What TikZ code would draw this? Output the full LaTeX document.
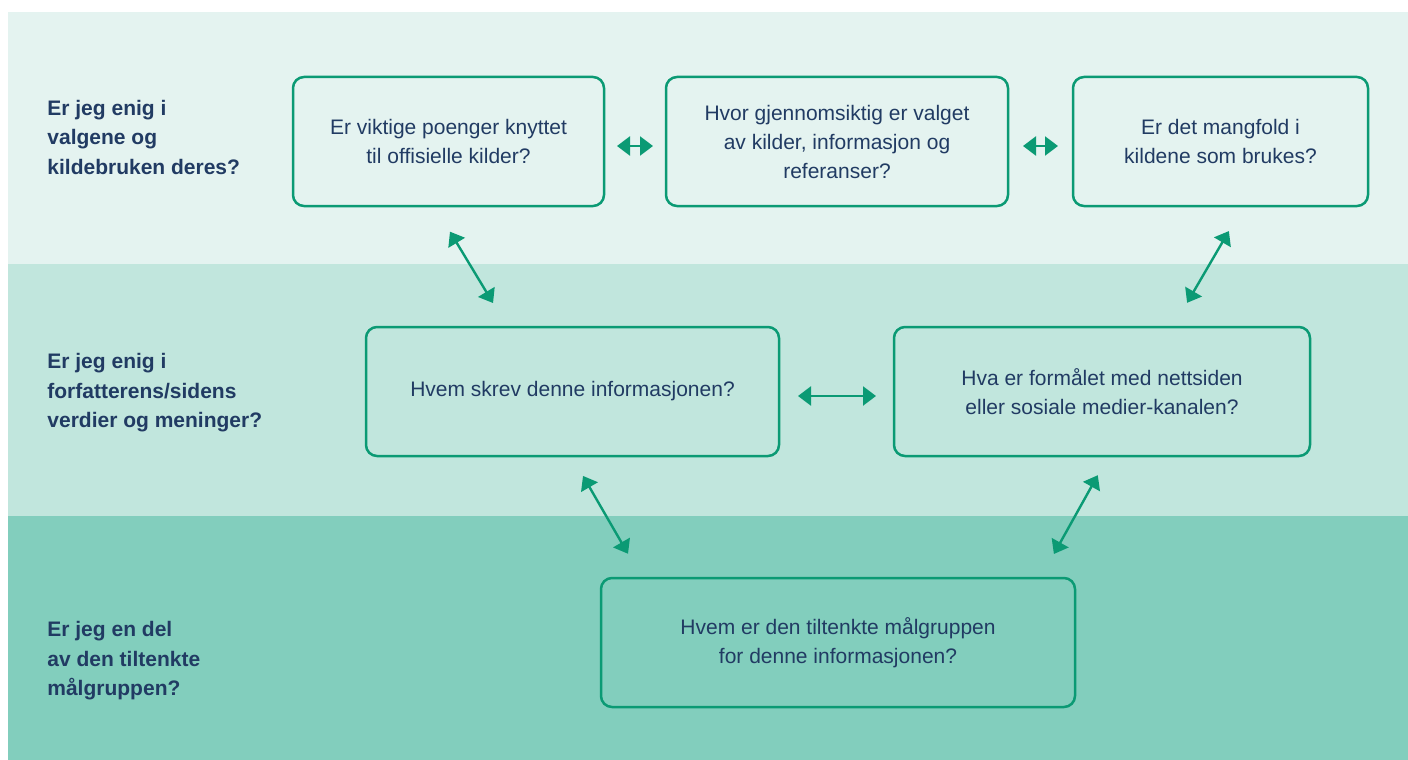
\documentclass[tikz,border=0pt]{standalone}
\usepackage{fontspec}
\setmainfont{Liberation Sans}
\usetikzlibrary{arrows.meta}

\definecolor{bandA}{HTML}{E4F3F0}
\definecolor{bandB}{HTML}{C1E6DD}
\definecolor{bandC}{HTML}{82CEBD}
\definecolor{leaf}{HTML}{0B9A74}
\definecolor{ink}{HTML}{213B63}

\begin{document}
\begin{tikzpicture}[x=1pt,y=-1pt,
   thick,q node/.style={draw=leaf,line width=2.5pt,rounded corners=11pt,
     text=ink,align=center,minimum height=129pt,inner sep=0pt,outer sep=0pt,
     font=\fontsize{21}{29}\selectfont},
   row label/.style={anchor=west,align=left,text=ink,inner sep=0pt,
     font=\bfseries\fontsize{21}{29.5}\selectfont}]

\tikzstyle {link} = [{Triangle[length=13pt,width=19pt]}-{Triangle[length=13pt,width=19pt]}, leaf, line width=2.4pt];

\useasboundingbox (0,0) rectangle (1408,760);

% the three bands
\fill[bandA] (8,12) rectangle (1408,264);
\fill[bandB] (8,264) rectangle (1408,516);
\fill[bandC] (8,516) rectangle (1408,760);

\node[row label] (r1) at (47,137){Er jeg enig i\\valgene og\\kildebruken deres?};
\node[row label] (r2) at (47,393){Er jeg enig i\\forfatterens/sidens\\verdier og meninger?};
\node[row label] (r3) at (47,661){Er jeg en del\\av den tiltenkte\\målgruppen?};

\node[q node,minimum width=311pt] (kilder) at (448.5,141.5){Er viktige poenger knyttet\\til offisielle kilder?};
\node[q node,minimum width=342pt] (valg) at (837,141.5){Hvor gjennomsiktig er valget\\av kilder, informasjon og\\referanser?};
\node[q node,minimum width=295pt] (mangfold) at (1220.5,141.5){Er det mangfold i\\kildene som brukes?};
\node[q node,minimum width=413pt] (forfatter) at (572.5,391.5){Hvem skrev denne informasjonen?};
\node[q node,minimum width=416pt] (formal) at (1102,391.5){Hva er formålet med nettsiden\\eller sosiale medier-kanalen?};
\node[q node,minimum width=474pt] (gruppe) at (838,642.5){Hvem er den tiltenkte målgruppen\\for denne informasjonen?};

%\draw [link] (kilder) -- (valg);

\path ([yshift=-4.5pt]kilder.east) edge [link, shorten <=13pt, shorten >=13pt] ([yshift=-4.5pt]valg.west);
\path ([yshift=-4.5pt]valg.east) edge [link, shorten <=15pt, shorten >=15pt] ([yshift=-4.5pt]mangfold.west);
\path ([yshift=-4.5pt]forfatter.east) edge [link, shorten <=19pt, shorten >=18pt] ([yshift=-4.5pt]formal.west);

\path ([xshift=-14pt]kilder.south) edge [link, shorten <=30pt, shorten >=28pt] ([xshift=-65pt]forfatter.north);
\path ([xshift=23pt]mangfold.south) edge [link, shorten <=29pt, shorten >=28pt] ([xshift=71pt]formal.north);
\path ([xshift=-1pt]forfatter.south) edge [link, shorten <=23pt, shorten >=28pt] ([xshift=-196pt]gruppe.north);
\path ([xshift=6.5pt]formal.south) edge [link, shorten <=22pt, shorten >=27.5pt] ([xshift=202.5pt]gruppe.north);

\end{tikzpicture}
\end{document}
